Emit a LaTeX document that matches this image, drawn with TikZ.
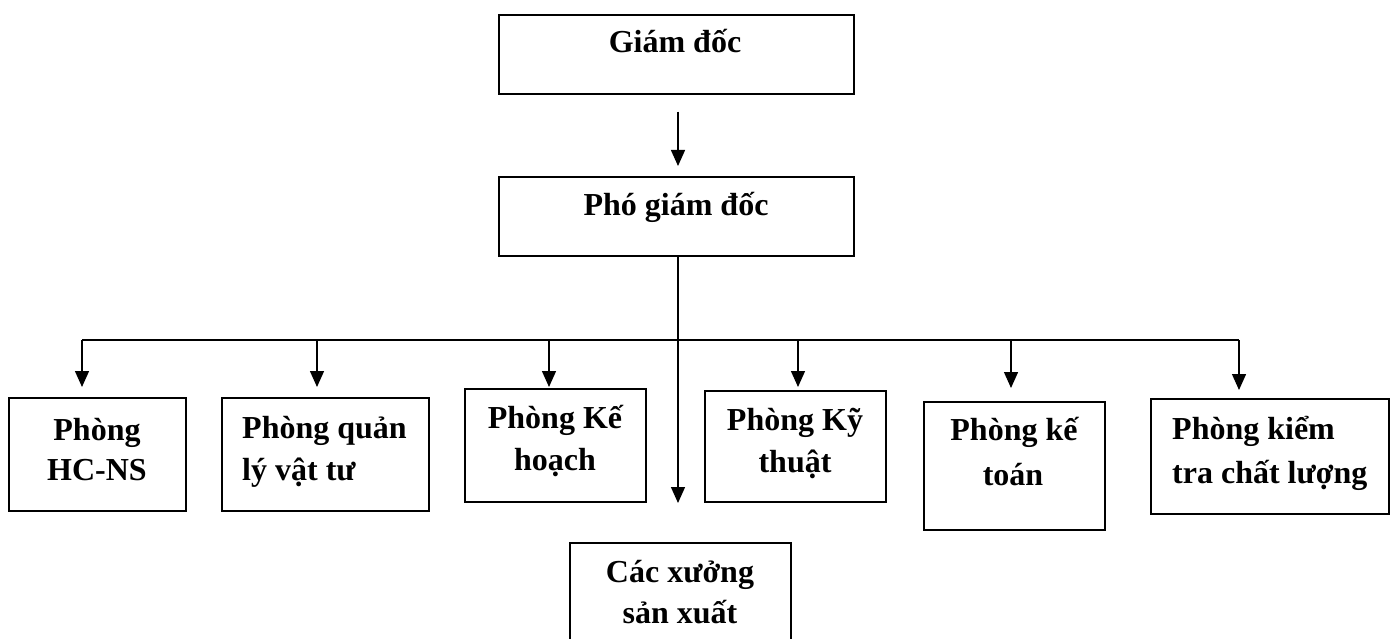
\documentclass[tikz,border=0pt]{standalone}
\usepackage{fontspec}
\setmainfont{Liberation Serif}
\usetikzlibrary{arrows.meta}
\begin{document}
\begin{tikzpicture}[x=1pt,y=-1pt,
  box/.style={draw, line width=1.6pt, rectangle, inner sep=0pt, anchor=north west},
  txt/.style={font=\fontsize{32}{40}\selectfont\bfseries, inner sep=0pt, anchor=base},
  txtl/.style={txt, anchor=base west},
  link/.style={line width=1.4pt},
  arr/.style={link, -{Triangle[width=14pt,length=16pt]}}]
\useasboundingbox (0,0) rectangle (1394,639);
\clip (0,0) rectangle (1394,639);

% boxes
\node[box, minimum width=355pt, minimum height=79pt] (gd)  at (498,14)  {};
\node[box, minimum width=355pt, minimum height=79pt] (pgd) at (498,176) {};
\node[box, minimum width=177pt, minimum height=113pt] (hc) at (8,397)   {};
\node[box, minimum width=207pt, minimum height=113pt] (vt) at (221,397) {};
\node[box, minimum width=181pt, minimum height=113pt] (kh) at (464,388) {};
\node[box, minimum width=181pt, minimum height=111pt] (kt) at (704,390) {};
\node[box, minimum width=181pt, minimum height=128pt] (ktoan) at (923,401) {};
\node[box, minimum width=238pt, minimum height=115pt] (kcl) at (1150,398) {};
\node[box, minimum width=221pt, minimum height=120pt] (xs) at (569,542) {};

% labels
\node[txt] (gdt) at (675,53) {Giám đốc};
\node[txt] (pgdt) at (676,215) {Phó giám đốc};
\node[txt] (hc1) at (97,440) {Phòng};
\node[txt] (hc2) at (97,480) {HC-NS};
\node[txtl] (vt1) at (242,438) {Phòng quản};
\node[txtl] (vt2) at (242,480) {lý vật tư};
\node[txt] (kh1) at (555,428) {Phòng Kế};
\node[txt] (kh2) at (555,470) {hoạch};
\node[txt] (kt1) at (795,430) {Phòng Kỹ};
\node[txt] (kt2) at (795,472) {thuật};
\node[txt] (kto1) at (1014,440) {Phòng kế};
\node[txt] (kto2) at (1013,485) {toán};
\node[txtl] (kcl1) at (1172,439) {Phòng kiểm};
\node[txtl] (kcl2) at (1172,483) {tra chất lượng};
\node[txt] (xs1) at (680,582) {Các xưởng};
\node[txt] (xs2) at (680,623) {sản xuất};

% connectors
\draw[arr, shorten <=17pt, shorten >=10pt] (gd.south -| 678,0) -- (pgd.north -| 678,0);
\draw[arr, shorten >=39pt] (pgd.south -| 678,0) -- (xs.north -| 678,0);
\draw[link] (82,340) coordinate (busl) -- (1239,340) coordinate (busr);
\draw[arr, shorten >=10pt] (busl) -- (busl |- hc.north);
\draw[arr, shorten >=10pt] (317,340) -- (vt.north -| 317,0);
\draw[arr, shorten >=1pt] (549,340) -- (kh.north -| 549,0);
\draw[arr, shorten >=3pt] (798,340) -- (kt.north -| 798,0);
\draw[arr, shorten >=13pt] (1011,340) -- (ktoan.north -| 1011,0);
\draw[arr, shorten >=8pt] (busr) -- (busr |- kcl.north);
\end{tikzpicture}
\end{document}
